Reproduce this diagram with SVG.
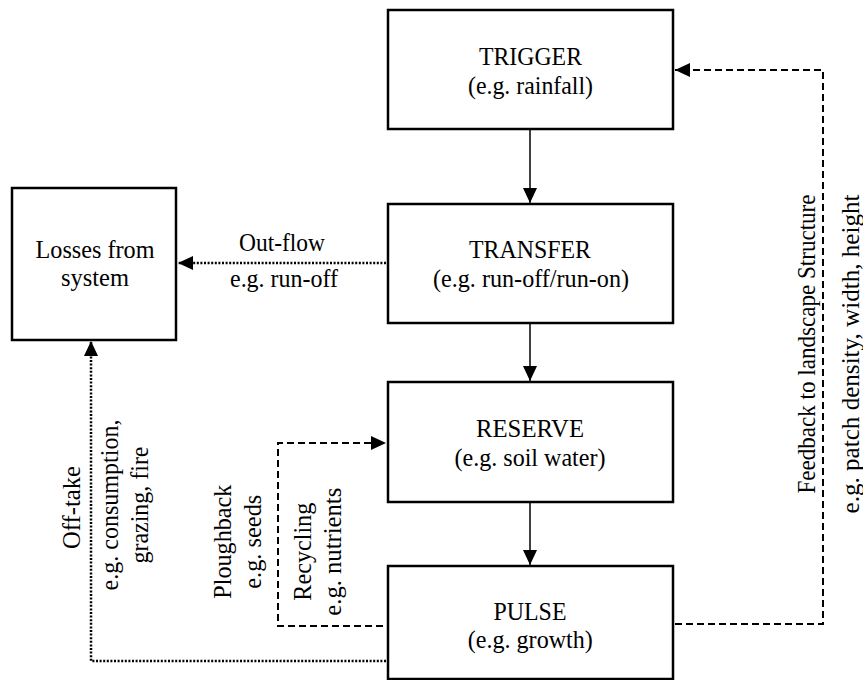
<svg xmlns="http://www.w3.org/2000/svg" width="863" height="680" viewBox="0 0 863 680">
<style>
.box{fill:#fff;stroke:#000;stroke-width:2.5}
.t{font-family:"Liberation Serif","Times New Roman",serif;font-size:25px;fill:#000;text-anchor:middle}
.solid{fill:none;stroke:#000;stroke-width:1.5}
.dash{fill:none;stroke:#000;stroke-width:2;stroke-dasharray:7,4}
.dot{fill:none;stroke:#000;stroke-width:2.5;stroke-dasharray:2,1.6}
</style>
<defs>
<marker id="ah" viewBox="0 0 15 14" refX="15" refY="7" markerWidth="15" markerHeight="14" markerUnits="userSpaceOnUse" orient="auto">
<path d="M0,0 L15,7 L0,14 Z" fill="#000"/>
</marker>
</defs>
<rect width="863" height="680" fill="#fff"/>
<g id="connectors">
<line class="solid" x1="530" y1="129" x2="530" y2="203" marker-end="url(#ah)"/>
<line class="solid" x1="530" y1="323" x2="530" y2="381" marker-end="url(#ah)"/>
<line class="solid" x1="530" y1="502" x2="530" y2="565" marker-end="url(#ah)"/>
<line class="dot" x1="386" y1="263" x2="178" y2="263" marker-end="url(#ah)"/>
<polyline class="dot" points="386,661 91,661 91,341" marker-end="url(#ah)"/>
<polyline class="dash" points="383,626 278,626 278,443 386,443" marker-end="url(#ah)"/>
<polyline class="dash" points="675,624 823,624 823,70 675,70" marker-end="url(#ah)"/>
<text class="t" x="282" y="250.5" textLength="86" lengthAdjust="spacingAndGlyphs">Out-flow</text>
<text class="t" x="284" y="287" textLength="108" lengthAdjust="spacingAndGlyphs">e.g. run-off</text>
<text class="t" transform="translate(80,507.5) rotate(-90)" textLength="83" lengthAdjust="spacingAndGlyphs">Off-take</text>
<text class="t" transform="translate(118,505) rotate(-90)" textLength="171" lengthAdjust="spacingAndGlyphs">e.g. consumption,</text>
<text class="t" transform="translate(148,505) rotate(-90)" textLength="117" lengthAdjust="spacingAndGlyphs">grazing, fire</text>
<text class="t" transform="translate(231,541.7) rotate(-90)" textLength="114" lengthAdjust="spacingAndGlyphs">Ploughback</text>
<text class="t" transform="translate(261,541.7) rotate(-90)" textLength="94" lengthAdjust="spacingAndGlyphs">e.g. seeds</text>
<text class="t" transform="translate(311,551.7) rotate(-90)" textLength="98" lengthAdjust="spacingAndGlyphs">Recycling</text>
<text class="t" transform="translate(341,551.7) rotate(-90)" textLength="128" lengthAdjust="spacingAndGlyphs">e.g. nutrients</text>
<text class="t" transform="translate(815,344) rotate(-90)" textLength="299" lengthAdjust="spacingAndGlyphs">Feedback to landscape Structure</text>
<text class="t" transform="translate(859,354) rotate(-90)" textLength="319" lengthAdjust="spacingAndGlyphs">e.g. patch density, width, height</text>
</g>
<g id="trigger">
<rect class="box" x="388" y="10" width="285" height="119"/>
<text class="t" x="530.5" y="65" textLength="103" lengthAdjust="spacingAndGlyphs">TRIGGER</text>
<text class="t" x="530.5" y="93.5" textLength="125" lengthAdjust="spacingAndGlyphs">(e.g. rainfall)</text>
</g>
<g id="transfer">
<rect class="box" x="388" y="204" width="285" height="119"/>
<text class="t" x="530" y="258" textLength="122" lengthAdjust="spacingAndGlyphs">TRANSFER</text>
<text class="t" x="531" y="286.5" textLength="196" lengthAdjust="spacingAndGlyphs">(e.g. run-off/run-on)</text>
</g>
<g id="reserve">
<rect class="box" x="388" y="382" width="285" height="120"/>
<text class="t" x="530" y="437" textLength="108" lengthAdjust="spacingAndGlyphs">RESERVE</text>
<text class="t" x="530" y="466" textLength="151" lengthAdjust="spacingAndGlyphs">(e.g. soil water)</text>
</g>
<g id="pulse">
<rect class="box" x="388" y="566" width="285" height="113"/>
<text class="t" x="530" y="620" textLength="73" lengthAdjust="spacingAndGlyphs">PULSE</text>
<text class="t" x="530.3" y="648" textLength="125" lengthAdjust="spacingAndGlyphs">(e.g. growth)</text>
</g>
<g id="losses">
<rect class="box" x="12" y="188" width="164" height="152"/>
<text class="t" x="95" y="258" textLength="119" lengthAdjust="spacingAndGlyphs">Losses from</text>
<text class="t" x="95" y="286" textLength="68" lengthAdjust="spacingAndGlyphs">system</text>
</g>
</svg>
